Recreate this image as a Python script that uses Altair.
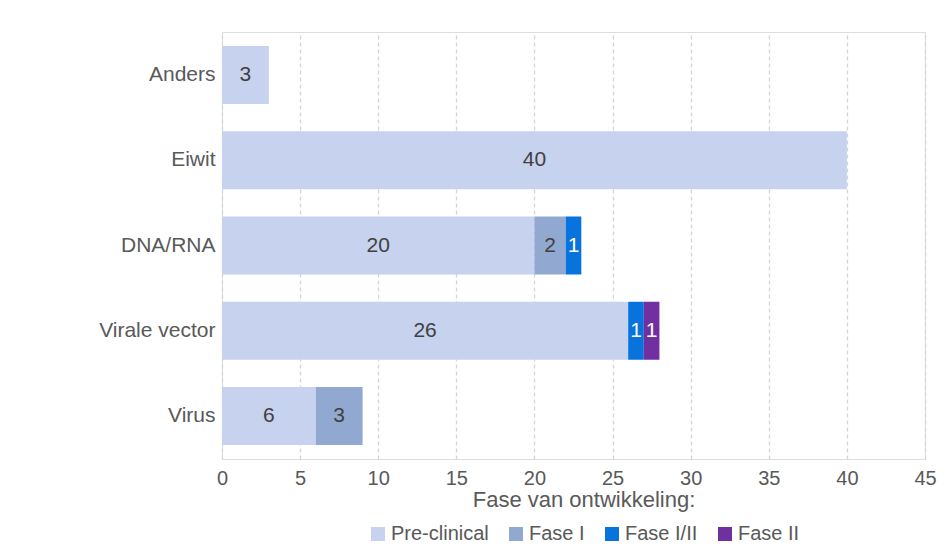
import altair as alt
import pandas as pd

categories = ["Anders", "Eiwit", "DNA/RNA", "Virale vector", "Virus"]
phases = ["Pre-clinical", "Fase I", "Fase I/II", "Fase II"]
preclinical = [3, 40, 20, 26, 6]
fase1 = [0, 0, 2, 0, 3]
fase12 = [0, 0, 1, 1, 0]
fase2 = [0, 0, 0, 1, 0]
colors = ["#c6d2ee", "#91a9d0", "#0873dc", "#7030a0"]
x_ticks = [0, 5, 10, 15, 20, 25, 30, 35, 40, 45]

rows = []
for series, phase in zip([preclinical, fase1, fase12, fase2], phases):
    for cat, v in zip(categories, series):
        if v > 0:
            rows.append({"cat": cat, "phase": phase, "order": phases.index(phase), "value": v})
df = pd.DataFrame(rows)

FONT = "Liberation Sans"
TXT = "#595959"

base = alt.Chart(df).transform_stack(
    stack="value", groupby=["cat"], as_=["x0", "x1"], sort=[alt.SortField("order", order="ascending")]
).transform_calculate(mid="(datum.x0 + datum.x1) / 2")

bars = base.mark_bar().encode(
    y=alt.Y("cat:N", sort=categories, title=None,
            scale=alt.Scale(paddingInner=0.32, paddingOuter=0.164),
            axis=alt.Axis(ticks=False, domain=False, labelFontSize=21, labelColor=TXT,
                          labelPadding=7, labelFont=FONT)),
    x=alt.X("x0:Q", title=None, scale=alt.Scale(domain=[0, 45], nice=False),
            axis=alt.Axis(values=x_ticks, format="d", ticks=False, domain=False,
                          labelFontSize=20, labelColor=TXT, labelPadding=9, labelFont=FONT,
                          labelFlush=False,
                          grid=True, gridColor="#d4d4d4", gridDash=[4, 3], gridWidth=1.3)),
    x2="x1:Q",
    color=alt.Color("phase:N", scale=alt.Scale(domain=phases, range=colors),
                    legend=alt.Legend(title="Fase van ontwikkeling:", orient="none",
                                      legendX=146, legendY=458, direction="horizontal",
                                      titleAnchor="middle", titleFontSize=22, titleLimit=500,
                                      titleFontWeight="normal", titleColor=TXT, titleFont=FONT,
                                      titlePadding=12, labelFontSize=20, labelColor=TXT,
                                      labelFont=FONT, symbolType="square", symbolSize=196,
                                      symbolStrokeWidth=0, columnPadding=17, labelOffset=3,
                                      labelLimit=300)),
)

labels = base.mark_text(fontSize=21, font=FONT).encode(
    y=alt.Y("cat:N", sort=categories),
    x=alt.X("mid:Q"),
    text=alt.Text("value:Q"),
    color=alt.condition(
        alt.FieldOneOfPredicate(field="phase", oneOf=["Fase I/II", "Fase II"]),
        alt.value("white"), alt.value("#404040")),
)

chart = alt.layer(bars, labels).properties(
    width=703, height=427,
    autosize=alt.AutoSizeParams(type="none"),
    padding={"left": 214, "top": 24, "right": 17, "bottom": 90},
).configure_view(stroke=None).configure(background="white")

chart.save("out.html", embed_options={"renderer": "svg", "actions": False})
